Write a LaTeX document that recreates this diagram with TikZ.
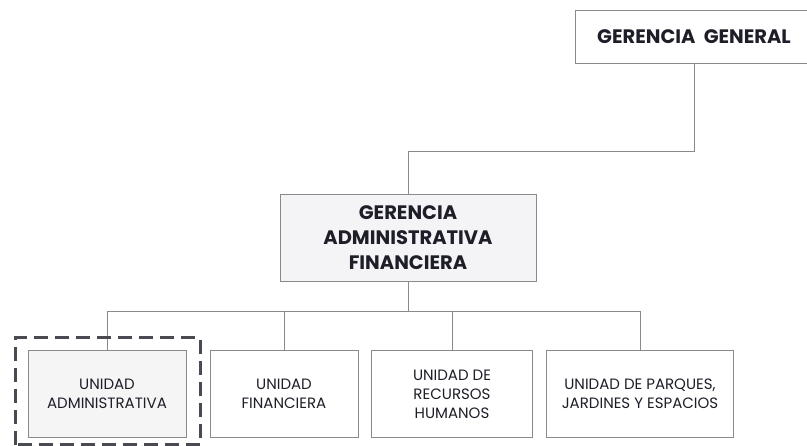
\documentclass[tikz,border=0pt]{standalone}
\usepackage{fontspec}
\setmainfont{Poppins}
\definecolor{linea}{HTML}{8A8A8E}
\definecolor{texto}{HTML}{1E1E28}
\definecolor{relleno}{HTML}{F4F4F6}
\definecolor{marca}{HTML}{4A4A52}

\begin{document}
\begin{tikzpicture}[x=1pt, y=-1pt,
    caja/.style={draw=linea, line width=0.9pt, fill=white, text=texto, align=center, inner sep=0pt},
    jefe/.style={caja, font=\fontsize{19.5}{25}\selectfont\bfseries},
    unidad/.style={caja, font=\fontsize{15}{19}\selectfont, minimum height=87},
    enlace/.style={draw=linea, line width=0.8pt}]
    \useasboundingbox (0,0) rectangle (807,446);

    % Gerencias
    \node[jefe, minimum width=238, minimum height=53] (gg) at (694,37) {GERENCIA\ \ GENERAL};
    \node[jefe, fill=relleno, minimum width=256, minimum height=87] (gaf) at (408,238)
        {GERENCIA\\ADMINISTRATIVA\\FINANCIERA};

    % Unidades
    \node[unidad, fill=relleno!80!linea!30, minimum width=158] (ua) at (107,394) {UNIDAD\\ADMINISTRATIVA};
    \node[unidad, minimum width=148] (uf) at (284,394) {UNIDAD\\FINANCIERA};
    \node[unidad, minimum width=161] (urh) at (452,394) {UNIDAD DE\\RECURSOS\\HUMANOS};
    \node[unidad, minimum width=187] (upj) at (640,394) {UNIDAD DE PARQUES,\\JARDINES Y ESPACIOS};

    % Conectores
    \draw[enlace] (gg.south) -- ++(0,87) -| (gaf.north);
    \draw[enlace] (gaf.south) -- ++(0,29) coordinate (bus);
    \draw[enlace] (ua.north) -- ++(0,-39) -| (upj.north);
    \draw[enlace] (uf.north) -- (uf.north |- bus);
    \draw[enlace] (urh.north) -- (urh.north |- bus);

    % Marca
    \draw[marca, line width=3pt, dash pattern=on 14pt off 7pt] (15,445) rectangle (200,338);
\end{tikzpicture}
\end{document}
